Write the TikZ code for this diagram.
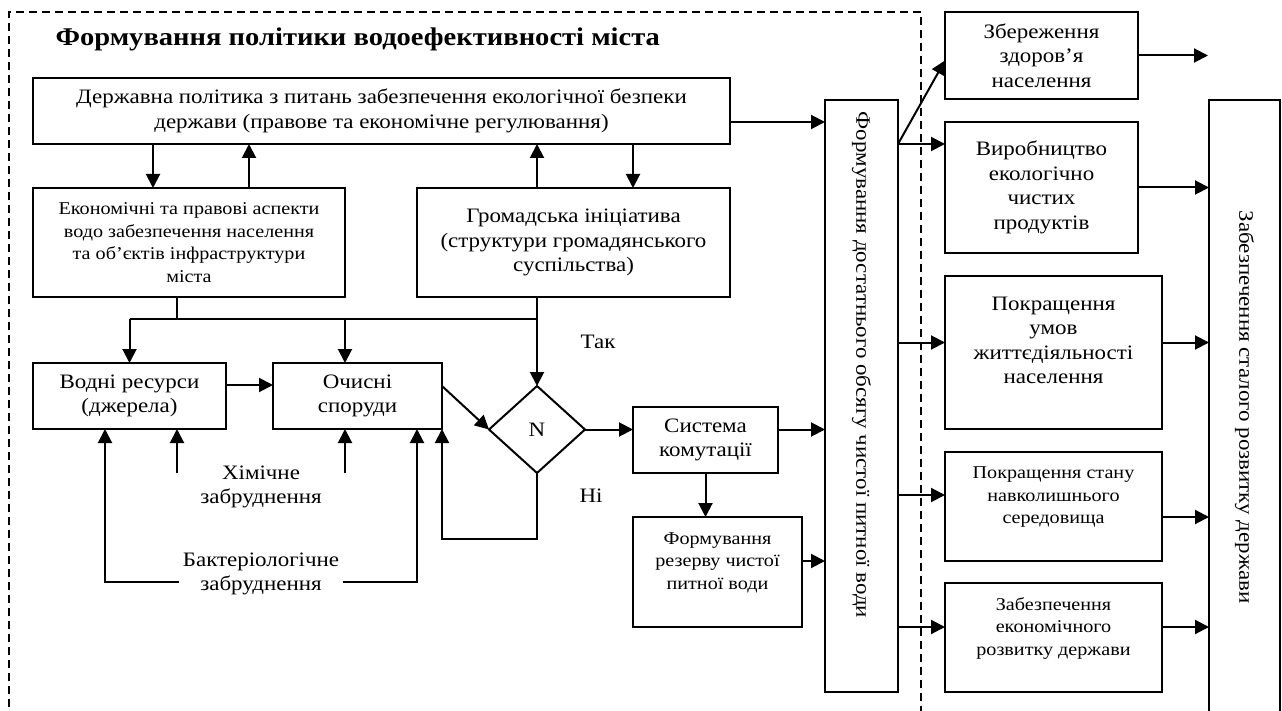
\documentclass[tikz,border=0pt]{standalone}
\usepackage{fontspec}
\setmainfont{Liberation Serif}[FakeStretch=1.12]
\usepackage{graphicx}
\usetikzlibrary{arrows.meta,positioning,shapes.geometric}
\newcommand{\normtext}{\fontsize{20.5}{24.5}\selectfont}
\newcommand{\smalltext}{\fontsize{18}{22.5}\selectfont}
\newcommand{\headtext}{\fontsize{25.5}{30}\selectfont\bfseries}
\tikzset{
  line/.style={line width=2pt},
  box/.style={draw, line, align=center, inner sep=0pt, outer sep=0pt, font=\normtext},
  smallbox/.style={box, font=\smalltext},
  decision/.style={diamond, draw, line, inner sep=0pt, outer sep=0pt,
    minimum width=96pt, minimum height=87pt, font=\normtext},
  lbl/.style={align=center, font=\normtext},
  arrow/.style={line, -{Triangle[length=14pt,width=14pt]}},
  group/.style={dash pattern=on 8pt off 5pt, line width=1.6pt},
}

\begin{document}
\begin{tikzpicture}[x=1pt, y=-1pt, node distance=23pt]
  \useasboundingbox[fill=white] (0,0) rectangle (1282,711);
  \draw[group] (9,720) |- (921,12) -- (921,720);
  \node[font=\headtext, anchor=base west] (title) at (52,46) {Формування політики водоефективності міста};

  % city level
  \node[box, minimum width=697pt, minimum height=66pt] (gov) at (381.5,111)
    {Державна політика з питань забезпечення екологічної безпеки\\держави (правове та економічне регулювання)};
  \node[smallbox, minimum width=312pt, minimum height=109pt] (econ) at (189,242.5)
    {Економічні та правові аспекти\\водо забезпечення населення\\та об’єктів інфраструктури\\міста};
  \node[box, right=72pt of econ, minimum width=313pt, minimum height=109pt] (civ)
    {Громадська ініціатива\\(структури громадянського\\суспільства)};
  \node[box, minimum width=193pt, minimum height=66pt] (water) at (129.5,396) {Водні ресурси\\(джерела)};
  \node[box, right=47pt of water, minimum width=169pt, minimum height=66pt] (plant) {Очисні\\споруди};
  \node[decision] (dec) at (537,429.5) {N};
  \node[box, minimum width=145pt, minimum height=66pt] (sw) at (705.5,440) {Система\\комутації};
  \node[smallbox, minimum width=169pt, minimum height=110pt] (res) at (717.5,572)
    {Формування\\резерву чистої\\питної води\\\mbox{}};
  \node[box, minimum width=73pt, minimum height=592pt] (vol) at (861.5,396)
    {\rotatebox{-90}{Формування достатнього обсягу чистої питної води\hspace*{62pt}}};

  \node[lbl] (yes) at (598,342) {Так};
  \node[lbl] (no) at (591,496) {Ні};
  \node[lbl] (chem) at (261,487) {Хімічне\\забруднення};
  \node[lbl] (bact) at (261,574) {Бактеріологічне\\забруднення};

  % results
  \node[box, minimum width=193pt, minimum height=87pt] (health) at (1041.5,55.5) {Збереження\\здоров’я\\населення};
  \node[box, below=of health.south west, anchor=north west, minimum width=193pt, minimum height=131pt] (prod)
    {Виробництво\\екологічно\\чистих\\продуктів};
  \node[box, below=of prod.south west, anchor=north west, minimum width=217pt, minimum height=153pt] (life)
    {Покращення\\умов\\життєдіяльності\\населення\\\mbox{}};
  \node[smallbox, below=of life.south west, anchor=north west, minimum width=217pt, minimum height=109pt] (env)
    {Покращення стану\\навколишнього\\середовища\\\mbox{}};
  \node[smallbox, below=22pt of env.south west, anchor=north west, minimum width=217pt, minimum height=109pt] (ecdev)
    {Забезпечення\\економічного\\розвитку держави\\\mbox{}};
  \node[box, minimum width=71pt, minimum height=614pt] (sust) at (1244.5,407)
    {\rotatebox{-90}{Забезпечення сталого розвитку держави}};

  \coordinate (bus) at (129.5,319);
  \coordinate (chemL) at (177,473);
  \coordinate (chemR) at (345,473);
  \coordinate (bactL) at (105,582);
  \coordinate (bactR) at (417,582);
  \coordinate (fan) at (898,144);
  \coordinate (free) at (1208,55.5);

  \draw[arrow] ([yshift=-11pt]gov.east) -- ([yshift=-11pt]gov.east -| vol.west);
  \draw[arrow] ([xshift=-36pt]econ.north |- gov.south) -- ([xshift=-36pt]econ.north);
  \draw[arrow] ([xshift=60pt]econ.north) -- ([xshift=60pt]econ.north |- gov.south);
  \draw[arrow] ([xshift=-36.5pt]civ.north) -- ([xshift=-36.5pt]civ.north |- gov.south);
  \draw[arrow] ([xshift=59.5pt]civ.north |- gov.south) -- ([xshift=59.5pt]civ.north);

  \draw[line] ([xshift=-12pt]econ.south) -- ([xshift=-12pt]econ.south |- bus);
  \draw[line] (bus) -- (bus -| dec.north);
  \draw[arrow] (bus) -- (water.north);
  \draw[arrow] ([xshift=-12.5pt]plant.north |- bus) -- ([xshift=-12.5pt]plant.north);
  \draw[arrow] ([xshift=-36.5pt]civ.south) -- (dec.north);

  \draw[arrow] ([yshift=11pt]water.east) -- ([yshift=11pt]water.east -| plant.west);
  \draw[arrow] ([yshift=10pt]plant.east) -- (dec.west);
  \draw[arrow] (dec.east) -- (dec.east -| sw.west);
  \draw[arrow] (dec.east -| sw.east) -- (dec.east -| vol.west);
  \draw[arrow] (sw.south) -- (sw.south |- res.north);
  \draw[arrow] ([yshift=11pt]res.east) -- ([yshift=11pt]res.east -| vol.west);
  \draw[arrow] (dec.south) -- ++(0,66) -| (plant.south east);

  \draw[arrow] (chemL) -- (chemL |- water.south);
  \draw[arrow] (chemR) -- (chemR |- plant.south);
  \draw[arrow] (bact.west |- bactL) -- (bactL) -- (bactL |- water.south);
  \draw[arrow] (bact.east |- bactR) -- (bactR) -- (bactR |- plant.south);

  \draw[arrow] (fan) -- ([yshift=-5pt]health.west);
  \draw[arrow] (fan) -- (fan -| prod.west);
  \draw[arrow] ([yshift=10pt]life.west -| vol.east) -- ([yshift=10pt]life.west);
  \draw[arrow] ([yshift=11.5pt]env.west -| vol.east) -- ([yshift=11.5pt]env.west);
  \draw[arrow] ([yshift=10.5pt]ecdev.west -| vol.east) -- ([yshift=10.5pt]ecdev.west);
  \draw[arrow] (health.east) -- (free);
  \draw[arrow] (prod.east) -- (prod.east -| sust.west);
  \draw[arrow] ([yshift=10pt]life.east) -- ([yshift=10pt]life.east -| sust.west);
  \draw[arrow] ([yshift=-10.5pt]env.east) -- ([yshift=-10.5pt]env.east -| sust.west);
  \draw[arrow] ([yshift=10.5pt]ecdev.east) -- ([yshift=10.5pt]ecdev.east -| sust.west);
\end{tikzpicture}
\end{document}
